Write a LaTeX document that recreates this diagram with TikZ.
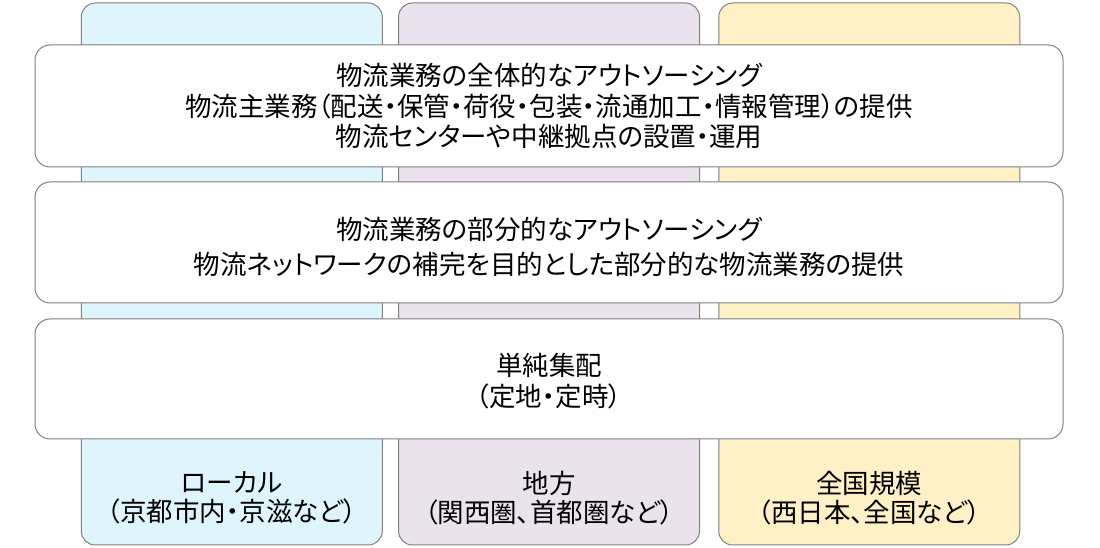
\documentclass[tikz,border=0pt]{standalone}
\usepackage{fontspec}
\setmainfont{Noto Sans CJK JP}[RawFeature=+palt]
\usepackage{xcolor}
\usepackage{tikz}
\usetikzlibrary{positioning}

\definecolor{localblue}{HTML}{DFF5FD}
\definecolor{regionpurple}{HTML}{EAE2EC}
\definecolor{nationyellow}{HTML}{FFF0C6}
\definecolor{framegray}{HTML}{808080}

\begin{document}
\begin{tikzpicture}[x=1pt, y=1pt,
    column/.style={draw=framegray, line width=1pt, rounded corners=14pt,
        minimum width=301pt, minimum height=542pt, inner sep=0pt},
    layer/.style={draw=framegray, line width=1pt, rounded corners=15pt,
        fill=white, minimum width=1028pt, inner sep=0pt},
    lbl/.style={align=center, inner sep=0pt}]
                \useasboundingbox (0,0) rectangle (1100,548);

                % 1. Các cột phạm vi
                \node[column, fill=localblue] (colLocal) at (231.75,274) {};
                \node[column, fill=regionpurple] (colRegion) at (549,274) {};
                \node[column, fill=nationyellow] (colNation) at (869.25,274) {};

                % 2. Các tầng dịch vụ
                \node[layer, minimum height=122pt] (boxFull) at (549,442) {};
                \node[layer, minimum height=121pt] (boxPart) at (549,305.5) {};
                \node[layer, minimum height=120pt] (boxSimple) at (549,169) {};

                % 3. Chữ trong các tầng
                \node[lbl, font={\fontsize{26.5}{30.5}\selectfont}] (txtFull) at (boxFull)
                    {物流業務の全体的なアウトソーシング\\
                     物流主業務（配送・保管・荷役・包装・流通加工・情報管理）の提供\\
                     物流センターや中継拠点の設置・運用};
                \node[lbl, font={\fontsize{26.5}{35}\selectfont}] (txtPart) at ([yshift=-4pt]boxPart)
                    {物流業務の部分的なアウトソーシング\\
                     物流ネットワークの補完を目的とした部分的な物流業務の提供};
                \node[lbl, font={\fontsize{26.5}{31}\selectfont}] (txtSimple) at ([yshift=-2pt]boxSimple)
                    {単純集配\\（定地・定時）};

                % 4. Chữ dưới các cột
                \node[lbl, font={\fontsize{26.5}{29}\selectfont}] (txtLocal) at (231.75,50)
                    {ローカル\\（京都市内・京滋など）};
                \node[lbl, font={\fontsize{26.5}{29}\selectfont}] (txtRegion) at (549,50)
                    {地方\\（関西圏、首都圏など）};
                \node[lbl, font={\fontsize{26.5}{29}\selectfont}] (txtNation) at (869.25,50)
                    {全国規模\\（西日本、全国など）};
\end{tikzpicture}
\end{document}
